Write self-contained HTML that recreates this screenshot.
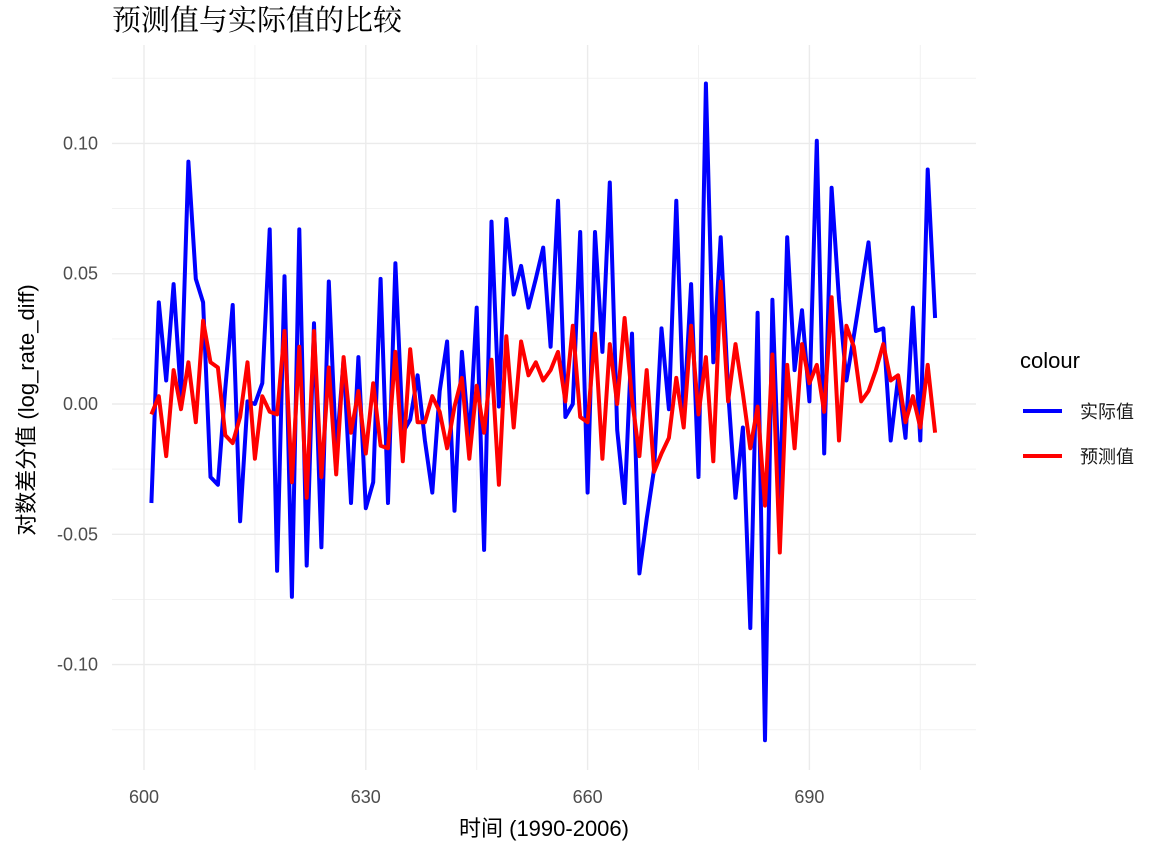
<!DOCTYPE html>
<html><head><meta charset="utf-8"><style>
body{margin:0;background:#fff;}
svg text{font-family:"Liberation Sans","Noto Sans CJK SC",sans-serif;}
</style></head><body>
<svg id="chart" width="1174" height="858" xmlns="http://www.w3.org/2000/svg">
<rect width="1174" height="858" fill="#fff"/>
<g id="grid"></g>
<g id="series"></g>
<g id="axes"></g>
<text x="112" y="30" font-size="29" fill="#000" style="font-family:'Liberation Serif','Noto Serif CJK SC',serif">预测值与实际值的比较</text>
<text x="544" y="836" font-size="22" text-anchor="middle" fill="#000">时间 (1990-2006)</text>
<text transform="translate(34,410) rotate(-90)" font-size="22" text-anchor="middle" fill="#000">对数差分值 (log_rate_diff)</text>
<g>
<text x="1020" y="368" font-size="22" fill="#000">colour</text>
<g><line x1="1023" y1="411" x2="1062" y2="411" stroke="#0000ff" stroke-width="4"/><text x="1080" y="418" font-size="18" fill="#1a1a1a">实际值</text></g>
<g><line x1="1023" y1="456" x2="1062" y2="456" stroke="#ff0000" stroke-width="4"/><text x="1080" y="463" font-size="18" fill="#1a1a1a">预测值</text></g>
</g>
</svg>
<script>
const xStart = 601;
const actual = [-0.038,0.039,0.009,0.046,0.003,0.093,0.048,0.039,-0.028,-0.031,0.006,0.038,-0.045,0.001,0.0,0.008,0.067,-0.064,0.049,-0.074,0.067,-0.062,0.031,-0.055,0.047,-0.019,0.017,-0.038,0.018,-0.040,-0.030,0.048,-0.038,0.054,-0.011,-0.006,0.011,-0.014,-0.034,0.005,0.024,-0.041,0.020,-0.015,0.037,-0.056,0.070,-0.001,0.071,0.042,0.053,0.037,0.048,0.060,0.022,0.078,-0.005,0.000,0.066,-0.034,0.066,0.020,0.085,-0.010,-0.038,0.027,-0.065,-0.044,-0.025,0.029,-0.002,0.078,-0.005,0.046,-0.028,0.123,0.016,0.064,0.005,-0.036,-0.009,-0.086,0.035,-0.129,0.040,-0.039,0.064,0.013,0.036,0.001,0.101,-0.019,0.083,0.040,0.009,0.026,0.044,0.062,0.028,0.029,-0.014,0.010,-0.013,0.037,-0.014,0.090,0.033];
const predicted = [-0.004,0.003,-0.020,0.013,-0.002,0.016,-0.007,0.032,0.016,0.014,-0.012,-0.015,-0.005,0.016,-0.021,0.003,-0.003,-0.004,0.028,-0.030,0.022,-0.036,0.028,-0.028,0.014,-0.027,0.018,-0.011,0.005,-0.019,0.008,-0.016,-0.017,0.020,-0.022,0.021,-0.007,-0.007,0.003,-0.003,-0.017,-0.001,0.010,-0.021,0.007,-0.011,0.017,-0.031,0.026,-0.009,0.024,0.011,0.016,0.009,0.013,0.020,0.001,0.030,-0.005,-0.007,0.027,-0.021,0.023,0.000,0.033,0.002,-0.020,0.013,-0.026,-0.019,-0.013,0.010,-0.009,0.030,-0.004,0.018,-0.022,0.047,0.001,0.023,0.004,-0.017,-0.001,-0.039,0.019,-0.057,0.015,-0.017,0.023,0.008,0.015,-0.003,0.041,-0.014,0.030,0.022,0.001,0.005,0.013,0.023,0.009,0.011,-0.007,0.003,-0.009,0.015,-0.011];
const xTicks = [600,630,660,690];
const xMinor = [585,615,645,675,705];
const yTicks = [0.10,0.05,0.00,-0.05,-0.10];
const yTickLabels = ["0.10","0.05","0.00","-0.05","-0.10"];
const yMinor = [0.125,0.075,0.025,-0.025,-0.075,-0.125];

const PL=112, PR=976, PT=45, PB=770;
function xs(v){return 144 + (v-600)*7.3933;}
function ys(v){return 404 - v*2606;}
const NS='http://www.w3.org/2000/svg';
function mk(tag, parent, attrs){const e=document.createElementNS(NS,tag);for(const k in attrs)e.setAttribute(k,attrs[k]);parent.appendChild(e);return e;}
const grid=document.getElementById('grid'), axes=document.getElementById('axes'), series=document.getElementById('series');
yMinor.forEach(v=>{const l=mk('line',grid,{x1:PL,x2:PR,y1:ys(v),y2:ys(v),stroke:'#f2f2f2','stroke-width':1});

});
xMinor.forEach(v=>{const x=xs(v); if(x<PL) return; const l=mk('line',grid,{x1:x,x2:x,y1:PT,y2:PB,stroke:'#f2f2f2','stroke-width':1});

});
yTicks.forEach((v,i)=>{const l=mk('line',grid,{x1:PL,x2:PR,y1:ys(v),y2:ys(v),stroke:'#ebebeb','stroke-width':1.4});


const t=mk('text',axes,{x:98,y:ys(v)+6,'font-size':18,'text-anchor':'end',fill:'#4d4d4d'});t.textContent=yTickLabels[i];

});
xTicks.forEach(v=>{const l=mk('line',grid,{x1:xs(v),x2:xs(v),y1:PT,y2:PB,stroke:'#ebebeb','stroke-width':1.4});


const t=mk('text',axes,{x:xs(v),y:803,'font-size':18,'text-anchor':'middle',fill:'#4d4d4d'});t.textContent=String(v);

});
function path(arr){return arr.map((v,i)=>(i?'L':'M')+xs(xStart+i).toFixed(1)+','+ys(v).toFixed(1)).join('');}
const pa=mk('path',series,{d:path(actual),fill:'none',stroke:'#0000ff','stroke-width':4,'stroke-linejoin':'round'});


const pp=mk('path',series,{d:path(predicted),fill:'none',stroke:'#ff0000','stroke-width':4,'stroke-linejoin':'round'});


</script>
</body></html>
